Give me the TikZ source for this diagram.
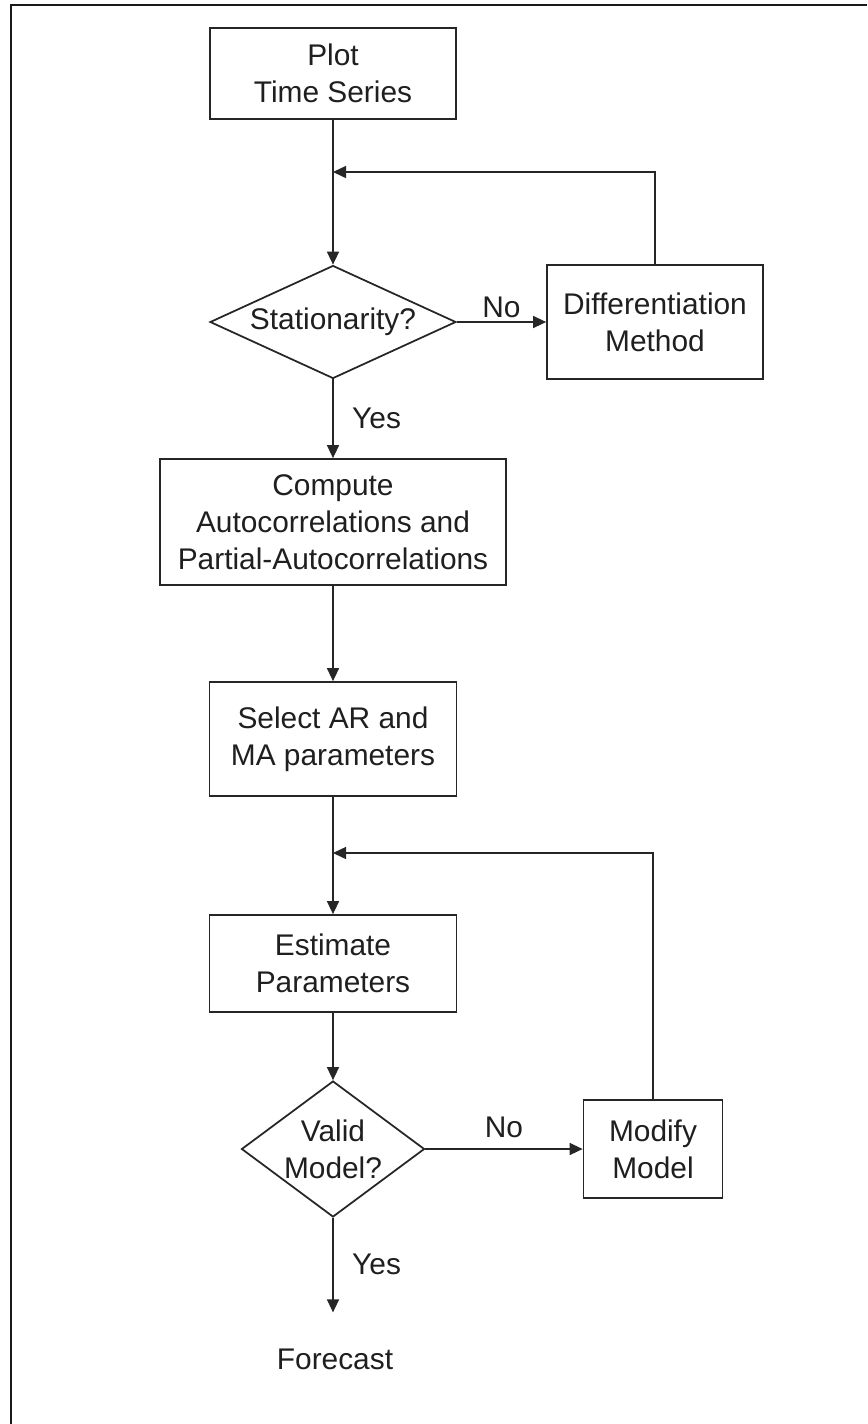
\documentclass[tikz,border=0pt]{standalone}
\usepackage{fontspec}
\setmainfont{Liberation Sans}
\usetikzlibrary{shapes.geometric,arrows.meta}
\tikzset{every node/.style={font=\fontsize{17}{21}\selectfont,text=black!88},
         box/.style={draw=black!85,rectangle,line width=1pt,align=center,inner sep=0pt},
         decision/.style={draw=black!85,diamond,line width=1pt,align=center,inner sep=0pt},
         flow/.style={draw=black!85,line width=0.8pt,-{Triangle[length=0.26cm,width=0.24cm]}},
         answer/.style={inner sep=2pt}}

\begin{document}
\begin{tikzpicture}[x=0.02cm,y=-0.02cm]
      \useasboundingbox (0,0) rectangle (867,1424);
      \draw[black!90,line width=0.04cm] (11,1424) -- (11,5) -- (867,5);
      \node[box,minimum width=4.92cm,minimum height=1.82cm] (plot) at (333,73.5) {Plot\\Time Series};
      \node[decision,minimum width=4.92cm,minimum height=2.26cm,shape aspect=2.18] (stat) at (333,322) {Stationarity?};
      \node[box,minimum width=4.32cm,minimum height=2.28cm] (diff) at (655,322) {Differentiation\\Method};
      \node[box,minimum width=6.92cm,minimum height=2.52cm] (acf) at (333,522) {Compute\\Autocorrelations and\\Partial-Autocorrelations};
      \node[box,minimum width=4.94cm,minimum height=2.28cm] (select) at (333,739) {Select AR and\\MA parameters};
      \node[box,minimum width=4.94cm,minimum height=1.94cm] (estimate) at (333,963.5) {Estimate\\Parameters};
      \node[decision,minimum width=3.66cm,minimum height=2.72cm,shape aspect=1.35,inner sep=-1pt] (valid) at (333,1149) {Valid\\Model?};
      \node[box,minimum width=2.78cm,minimum height=1.96cm] (modify) at (653,1149) {Modify\\Model};
      \node (forecast) at (335,1359) {Forecast};
      \coordinate (join1) at (333,172);
      \coordinate (join2) at (333,853);
      \draw[flow] (plot) -- (stat);
      \draw[flow] (diff.north) |- (join1);
      \draw[flow] (stat) -- node[answer,above] {No} (diff);
      \draw[flow] (stat) -- node[answer,right,xshift=0.3cm] {Yes} (acf);
      \draw[flow] (acf) -- (select);
      \draw[flow] (select) -- (estimate);
      \draw[flow] (modify.north) |- (join2);
      \draw[flow] (estimate) -- (valid);
      \draw[flow] (valid) -- node[answer,above,yshift=0.15cm] {No} (modify);
      \draw[flow,shorten >=0.6cm] (valid) -- node[answer,right,xshift=0.3cm,yshift=0.32cm] {Yes} (valid |- forecast.north);
\end{tikzpicture}
\end{document}
